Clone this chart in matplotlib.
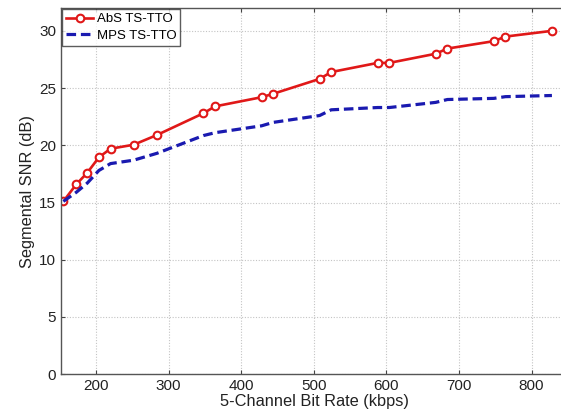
"""Segmental SNR vs. 5-channel bit rate (AbS vs. MPS TS-TTO)."""

import matplotlib

matplotlib.use("Agg")
import matplotlib.pyplot as plt

# Bit rates (kbps) shared by both curves
bit_rate = [155, 173, 188, 204, 220, 252, 284, 348, 364, 428, 444,
            508, 524, 588, 604, 668, 684, 748, 764, 828]

# Segmental SNR (dB)
snr_abs = [15.1, 16.6, 17.6, 18.95, 19.7, 20.05, 20.9, 22.8, 23.4, 24.2, 24.5,
           25.8, 26.4, 27.2, 27.2, 28.0, 28.45, 29.1, 29.5, 30.0]
snr_mps = [15.1, 15.9, 16.7, 17.8, 18.4, 18.7, 19.3, 20.85, 21.1, 21.7, 22.0,
           22.6, 23.1, 23.3, 23.3, 23.75, 24.0, 24.1, 24.25, 24.35]

x_ticks = [200, 300, 400, 500, 600, 700, 800]
y_ticks = [0, 5, 10, 15, 20, 25, 30]

plt.rcParams["font.family"] = ["Liberation Sans", "DejaVu Sans"]

fig = plt.figure(figsize=(5.61, 4.19), dpi=100, facecolor="white")
# axes run slightly past the right edge, as in the cropped original
ax = fig.add_axes([0.109, 0.107, 0.902, 0.874])

ax.plot(bit_rate, snr_abs, color="#e01818", linewidth=1.9, marker="o",
        markersize=5.5, markerfacecolor="white", markeredgecolor="#e01818",
        markeredgewidth=1.5, label="AbS TS-TTO")
ax.plot(bit_rate, snr_mps, color="#1a1ab0", linewidth=2.3, linestyle=(0, (3, 1.5)),
        label="MPS TS-TTO")

ax.set_xlim(152, 849)
ax.set_ylim(0, 32)
ax.set_xticks(x_ticks)
ax.set_yticks(y_ticks)
ax.tick_params(direction="in", labelsize=11, length=3, colors="#444444",
               labelcolor="#222222", top=True, right=False)
ax.grid(True, linestyle=(0, (1, 1.5)), color="#c4c4c4", linewidth=0.8)

for spine in ax.spines.values():
    spine.set_color("#555555")
    spine.set_linewidth(1.0)

ax.set_xlabel("5-Channel Bit Rate (kbps)", fontsize=11.8, color="#222222", labelpad=1)
ax.set_ylabel("Segmental SNR (dB)", fontsize=11.8, color="#222222", labelpad=3)

leg = ax.legend(loc="upper left", fontsize=9.5, frameon=True, fancybox=False,
                borderpad=0.3, handlelength=2.0, handletextpad=0.3,
                labelspacing=0.3, borderaxespad=0.1)
leg.get_frame().set_edgecolor("#333333")
leg.get_frame().set_linewidth(1.0)

fig.savefig("out.png", dpi=100, facecolor=fig.get_facecolor())
